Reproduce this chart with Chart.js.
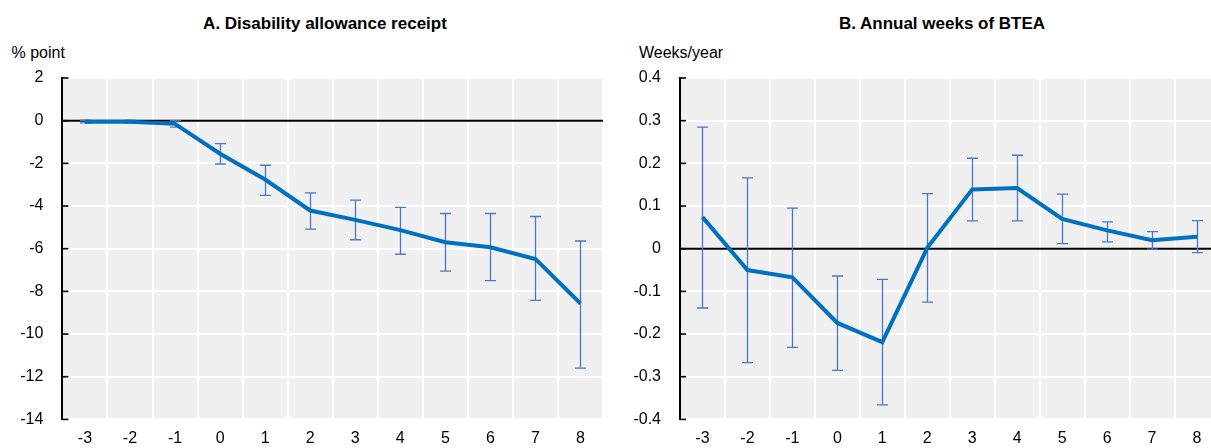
<!DOCTYPE html>
<html>
<head>
<meta charset="utf-8">
<script src="https://cdn.jsdelivr.net/npm/chart.js@4.4.1/dist/chart.umd.min.js"></script>
<style>
  html, body { margin: 0; padding: 0; background: #fff; }
  body { width: 1211px; height: 448px; overflow: hidden; position: relative;
         font-family: "Liberation Sans", Arial, sans-serif; color: #000; }
  .title { position: absolute; font-weight: bold; font-size: 17px; line-height: 17px;
           white-space: nowrap; transform: translateX(-50%); }
  .unit { position: absolute; font-size: 16px; line-height: 16px; white-space: nowrap; }
  .panel { position: absolute; top: 0; height: 448px; }
  canvas { display: block; }
</style>
</head>
<body>
<div class="title" style="left:325px; top:14.5px">A. Disability allowance receipt</div>
<div class="title" style="left:942px; top:14.5px">B. Annual weeks of BTEA</div>
<div class="unit" style="left:11.5px; top:44.6px">% point</div>
<div class="unit" style="left:639px; top:45.2px">Weeks/year</div>
<div class="panel" style="left:0; width:612px"><canvas id="chartA" width="612" height="448"></canvas></div>
<div class="panel" style="left:610px; width:622px"><canvas id="chartB" width="622" height="448"></canvas></div>

<script>
// Years relative to the event
const years = ['-3', '-2', '-1', '0', '1', '2', '3', '4', '5', '6', '7', '8'];

// Panel A: disability allowance receipt, % point (estimate and 95% bounds)
const disabEst  = [-0.05, -0.05, -0.15, -1.55, -2.76, -4.21, -4.65, -5.13, -5.70, -5.93, -6.48, -8.57];
const disabLow  = [-0.10, -0.10, -0.30, -2.03, -3.50, -5.08, -5.58, -6.26, -7.05, -7.50, -8.42, -11.60];
const disabHigh = [ 0.02,  0.02,  0.00, -1.08, -2.09, -3.38, -3.72, -4.06, -4.35, -4.35, -4.49, -5.64];

// Panel B: annual weeks of BTEA (estimate and 95% bounds)
const bteaEst  = [ 0.074, -0.050, -0.067, -0.174, -0.219,  0.002, 0.139, 0.142, 0.070, 0.043,  0.020,  0.028];
const bteaLow  = [-0.139, -0.267, -0.231, -0.285, -0.366, -0.125, 0.065, 0.065, 0.012, 0.016, -0.001, -0.009];
const bteaHigh = [ 0.285,  0.166,  0.095, -0.064, -0.072,  0.129, 0.212, 0.219, 0.128, 0.063,  0.040,  0.066];

// Value axis ranges
const axisA = { min: -14, max: 2, step: 2 };
const axisB = { min: -0.4, max: 0.4, step: 0.1 };

Chart.defaults.font.family = '"Liberation Sans", Arial, sans-serif';
Chart.defaults.color = '#000';

// Light grey plot background
const plotBg = {
  id: 'plotBg',
  beforeDraw(chart) {
    const { ctx, chartArea: a } = chart;
    ctx.save();
    ctx.fillStyle = '#f0f0f0';
    ctx.fillRect(a.left, a.top, a.right - a.left, a.bottom - a.top);
    ctx.restore();
  }
};

// Black zero line and short inward ticks on the value axis
const axisMarks = {
  id: 'axisMarks',
  beforeDatasetsDraw(chart) {
    const { ctx, chartArea: a, scales: { y } } = chart;
    ctx.save();
    ctx.strokeStyle = '#000';
    ctx.lineWidth = 2;
    const y0 = y.getPixelForValue(0);
    ctx.beginPath();
    ctx.moveTo(a.left, y0);
    ctx.lineTo(a.right, y0);
    ctx.stroke();
    ctx.lineWidth = 1.6;
    y.ticks.forEach(t => {
      const py = y.getPixelForValue(t.value);
      ctx.beginPath();
      ctx.moveTo(a.left, py);
      ctx.lineTo(a.left + 6, py);
      ctx.stroke();
    });
    ctx.restore();
  }
};

// Confidence interval whiskers
const errorBars = {
  id: 'errorBars',
  beforeDatasetsDraw(chart, args, opts) {
    const { ctx, scales: { x, y } } = chart;
    ctx.save();
    ctx.strokeStyle = '#4a77c8';
    ctx.lineWidth = 1.3;
    const cap = 5.5;
    opts.low.forEach((lo, i) => {
      const px = Math.round(x.getPixelForValue(i)) + 0.5;
      const y1 = y.getPixelForValue(lo);
      const y2 = y.getPixelForValue(opts.high[i]);
      ctx.beginPath();
      ctx.moveTo(px, y1); ctx.lineTo(px, y2);
      ctx.moveTo(px - cap, y1); ctx.lineTo(px + cap, y1);
      ctx.moveTo(px - cap, y2); ctx.lineTo(px + cap, y2);
      ctx.stroke();
    });
    ctx.restore();
  }
};

function makeChart(id, est, low, high, axis, yAxisWidth, padRight, fmt) {
  return new Chart(document.getElementById(id), {
    type: 'line',
    data: {
      labels: years,
      datasets: [{
        data: est,
        borderColor: '#0070c0',
        borderWidth: 4,
        pointRadius: 0,
        pointHoverRadius: 0,
        fill: false,
        tension: 0
      }]
    },
    options: {
      responsive: false,
      animation: false,
      devicePixelRatio: 1,
      layout: { padding: { top: 78, right: padRight, bottom: 0, left: 0 } },
      plugins: {
        legend: { display: false },
        tooltip: { enabled: false },
        errorBars: { low: low, high: high }
      },
      scales: {
        x: {
          offset: true,
          grid: { offset: true, color: '#ffffff', lineWidth: 2, drawTicks: false },
          border: { display: false },
          ticks: { font: { size: 16 }, padding: 10, autoSkip: false, maxRotation: 0 },
          afterFit: s => { s.height = 26.5; }
        },
        y: {
          min: axis.min,
          max: axis.max,
          grid: { color: '#ffffff', lineWidth: 2, drawTicks: false },
          border: { display: true, color: '#000', width: 2 },
          ticks: { stepSize: axis.step, font: { size: 16 }, padding: 19, callback: fmt },
          afterFit: s => { s.width = yAxisWidth; }
        }
      }
    },
    plugins: [plotBg, axisMarks, errorBars]
  });
}

makeChart('chartA', disabEst, disabLow, disabHigh, axisA, 62.4, 9,
  v => String(v));
makeChart('chartB', bteaEst, bteaLow, bteaHigh, axisB, 70, 12.5,
  v => (Math.abs(v) < 1e-9 ? '0' : v.toFixed(1)));
</script>
</body>
</html>
